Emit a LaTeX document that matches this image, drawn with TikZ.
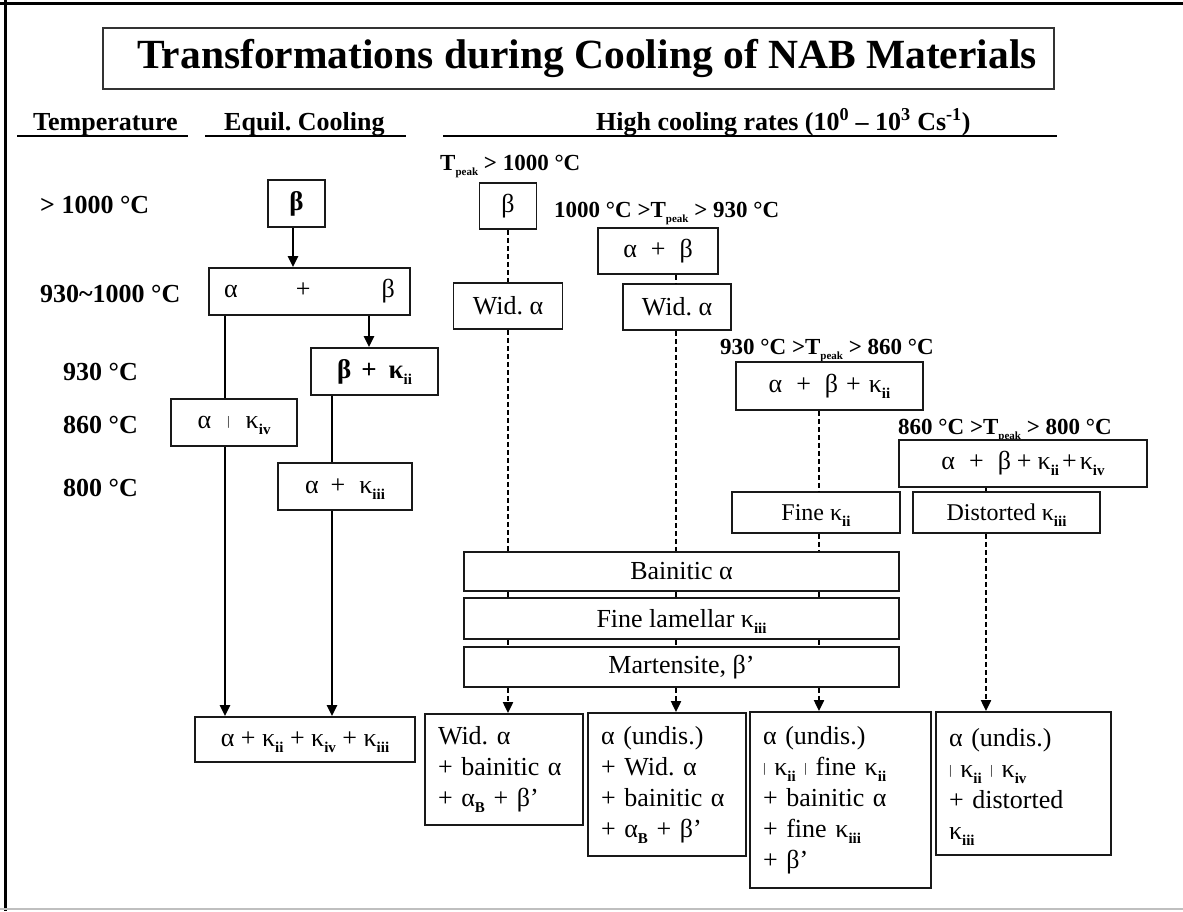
\documentclass[tikz,border=0pt]{standalone}
\usepackage{fontspec}
\setmainfont{Liberation Serif}
\usetikzlibrary{arrows.meta}
\newcommand\sbs[1]{\raisebox{-6pt}[0pt][0pt]{\fontsize{15}{15}\selectfont\bfseries #1}}
\newcommand\vbar{\raisebox{3pt}[0pt][0pt]{\fontsize{13}{13}\selectfont|}}
\newcommand\tpk{T\raisebox{-5pt}[0pt][0pt]{\fontsize{11}{11}\selectfont peak}}
\frenchspacing
\begin{document}
\begin{tikzpicture}[x=1pt,y=-1pt,
  bx/.style={draw=black!90,line width=1.8pt,fill=white,inner sep=0pt,font=\fontsize{26}{31}\selectfont},
  bxs/.style={bx,font=\fontsize{24}{28}\selectfont},
  lbl/.style={font=\fontsize{26}{30}\selectfont\bfseries,inner sep=0pt},
  tlbl/.style={font=\fontsize{23}{28}\selectfont\bfseries,inner sep=0pt,anchor=west},
  sol/.style={line width=2.4pt,-{Triangle[length=11pt,width=10pt]}},
  soln/.style={line width=2.4pt},
  dsh/.style={line width=2pt,dash pattern=on 5pt off 3pt},
  dsha/.style={dsh,-{Triangle[length=11pt,width=10pt]}},
  multi/.style={bx,align=left,text width=#1,inner xsep=13pt}
]
\useasboundingbox (0,0) rectangle (1183,911);
% frame
\draw[line width=3pt] (0,3) -- (1183,3);
\draw[line width=3pt] (5,0) -- (5,911);
\draw[black!25,line width=2pt] (0,909) -- (1183,909);

% title
\node[bx,draw=black!80,minimum width=951pt,minimum height=61pt] (title) at (578.5,58.5)
  {\fontsize{41.5}{42}\selectfont\bfseries\hspace*{17pt}Transformations during Cooling of NAB Materials};

% headers
\node[lbl,anchor=base west] (hT) at (33,130) {Temperature};
\node[lbl,anchor=base west] (hE) at (224,130) {Equil. Cooling};
\node[lbl,anchor=base west] (hH) at (596,130) {High cooling rates (10\textsuperscript{0} – 10\textsuperscript{3} Cs\textsuperscript{-1})};
\draw[line width=2pt] (17,136) -- (188,136);
\draw[line width=2pt] (205,136) -- (406,136);
\draw[line width=2pt] (443,136) -- (1057,136);

% temperature labels
\node[lbl,anchor=west] (t1) at (40,205) {> 1000 °C};
\node[lbl,anchor=west] (t2) at (40,294) {930\char"7E 1000 °C};
\node[lbl,anchor=west] (t3) at (63,372) {930 °C};
\node[lbl,anchor=west] (t4) at (63,425) {860 °C};
\node[lbl,anchor=west] (t5) at (63,488) {800 °C};

% peak labels
\node[tlbl] (p1) at (440,163) {\tpk{} > 1000 °C};
\node[tlbl] (p2) at (554,210) {1000 °C >\tpk{} > 930 °C};
\node[tlbl] (p3) at (720,347) {930 °C >\tpk{} > 860 °C};
\node[tlbl] (p4) at (898,427) {860 °C >\tpk{} > 800 °C};

% equilibrium column
\node[bx,minimum width=57pt,minimum height=47pt,font=\fontsize{27}{31}\selectfont\bfseries] (eb) at (296.5,203.5) {β};
\node[bx,minimum width=201pt,minimum height=47pt] (eab) at (309.5,291.5) {α\hspace{58pt}+\hspace{71pt}β};
\node[bx,minimum width=127pt,minimum height=47pt,font=\fontsize{27}{31}\selectfont\bfseries] (ebk) at (374.5,371.5) {β\hspace{10pt}+\hspace{12pt}κ\sbs{ii}};
\node[bx,minimum width=126pt,minimum height=47pt] (eak4) at (234,422.5) {α\hspace{16pt}\vbar\hspace{16pt}κ\sbs{iv}};
\node[bx,minimum width=134pt,minimum height=47pt] (eak3) at (345,486.5) {α\hspace{12pt}+\hspace{14pt}κ\sbs{iii}};
\node[bx,minimum width=220pt,minimum height=45pt] (efin) at (305,739.5) {α + κ\sbs{ii} + κ\sbs{iv} + κ\sbs{iii}};

\coordinate (ea) at (293,0);
\coordinate (eb3) at (369,0);
\coordinate (e1) at (225,0);
\coordinate (e2) at (332,0);
\draw[sol] (eb.south -| ea) -- (eab.north -| ea);
\draw[sol] (eab.south -| eb3) -- (ebk.north -| eb3);
\draw[soln] (eab.south -| e1) -- (eak4.north -| e1);
\draw[sol] (eak4.south -| e1) -- (efin.north -| e1);
\draw[soln] (ebk.south -| e2) -- (eak3.north -| e2);
\draw[sol] (eak3.south -| e2) -- (efin.north -| e2);

% high cooling rates
\node[bx,minimum width=57pt,minimum height=46pt] (hb) at (508,206) {β};
\node[bx,minimum width=109pt,minimum height=46pt] (hw1) at (508,306) {Wid. α};
\node[bx,minimum width=120pt,minimum height=46pt] (hab) at (658,251) {α\hspace{14pt}+\hspace{14pt}β};
\node[bx,minimum width=108pt,minimum height=46pt] (hw2) at (677,307) {Wid. α};
\node[bx,minimum width=187pt,minimum height=48pt] (habk) at (829.5,386) {α\hspace{14pt}+\hspace{14pt}β\hspace{8pt}+\hspace{8pt}κ\sbs{ii}};
\node[bxs,minimum width=168pt,minimum height=41pt] (hfk) at (816,512.5) {Fine κ\sbs{ii}};
\node[bx,minimum width=248pt,minimum height=47pt] (habkk) at (1023,463.5) {α\hspace{14pt}+\hspace{14pt}β\hspace{6pt}+\hspace{6pt}κ\sbs{ii}\hspace{3pt}+\hspace{3pt}κ\sbs{iv}};
\node[bxs,minimum width=187pt,minimum height=41pt] (hdk) at (1006.5,512.5) {Distorted κ\sbs{iii}};
\node[bx,minimum width=435pt,minimum height=39pt] (bain) at (681.5,571.5) {Bainitic α};
\node[bx,minimum width=435pt,minimum height=41pt] (lam) at (681.5,618.5) {Fine lamellar κ\sbs{iii}};
\node[bx,minimum width=435pt,minimum height=40pt] (mart) at (681.5,667) {Martensite, β’};

\node[multi=132pt,minimum height=111pt] (finA) at (504,769.5)
  {Wid. α\\+ bainitic α\\+ α\sbs{B} + β’};
\node[multi=132pt,minimum height=143pt] (finB) at (667,784.5)
  {α (undis.)\\+ Wid. α\\+ bainitic α\\+ α\sbs{B} + β’};
\node[multi=155pt,minimum height=176pt] (finC) at (840.5,800)
  {α (undis.)\\\vbar{} κ\sbs{ii} \vbar{} fine κ\sbs{ii}\\+ bainitic α\\+ fine κ\sbs{iii}\\+ β’};
\node[multi=149pt,minimum height=143pt] (finD) at (1023.5,783.5)
  {α (undis.)\\\vbar{} κ\sbs{ii} \vbar{} κ\sbs{iv}\\+ distorted\\κ\sbs{iii}};

\coordinate (x1) at (508,0);
\coordinate (x2) at (676,0);
\coordinate (x3) at (819,0);
\coordinate (x4) at (986,0);
\draw[dsh] (hb.south -| x1) -- (hw1.north -| x1);
\draw[dsh] (hw1.south -| x1) -- (bain.north -| x1);
\draw[dsh] (hab.south -| x2) -- (hw2.north -| x2);
\draw[dsh] (hw2.south -| x2) -- (bain.north -| x2);
\draw[dsh] (habk.south -| x3) -- (hfk.north -| x3);
\draw[dsh] (hfk.south -| x3) -- (bain.north -| x3);
\draw[line width=2pt] (habkk.south -| x4) -- (hdk.north -| x4);
\draw[dsha] (hdk.south -| x4) -- (finD.north -| x4);
\foreach \c/\f in {x1/finA,x2/finB,x3/finC}{
  \draw[dsh] (bain.south -| \c) -- (lam.north -| \c);
  \draw[dsh] (lam.south -| \c) -- (mart.north -| \c);
  \draw[dsha] (mart.south -| \c) -- (\f.north -| \c);
}
\end{tikzpicture}
\end{document}
